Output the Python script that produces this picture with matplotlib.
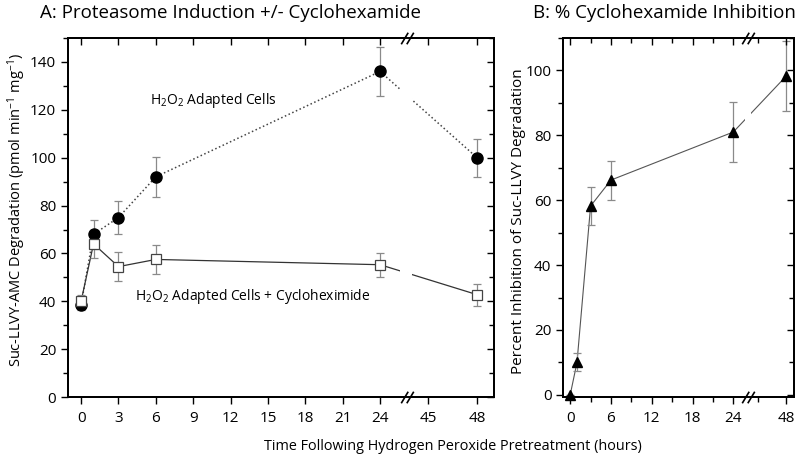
import numpy as np
import matplotlib
matplotlib.use("Agg")
import matplotlib.pyplot as plt

plt.rcParams['font.family'] = ['Open Sans', 'DejaVu Sans']
plt.rcParams['mathtext.fontset'] = 'custom'
plt.rcParams['mathtext.rm'] = 'Open Sans'
plt.rcParams['mathtext.it'] = 'Open Sans:italic'

# ---- data ----
# Panel A
time_a = [0, 1, 3, 6, 24, 48]
adapted = [38.5, 68, 75, 92, 136, 100]
adapted_err = [2, 6, 7, 8.4, 10.2, 8]
chx = [40, 64, 54.5, 57.5, 55.3, 42.8]
chx_err = [2.5, 6, 6, 6, 5, 4.6]
xticks_a = [0, 3, 6, 9, 12, 15, 18, 21, 24, 45, 48]

# Panel B
time_b = [0, 1, 3, 6, 24, 48]
inhib = [0, 10, 58.2, 66.2, 81, 98.3]
inhib_err = [0, 2.8, 6, 6, 9.3, 10.8]
xticks_b = [0, 6, 12, 18, 24, 48]
xminor_b = [3, 9, 15, 21, 45]


# broken time axis: linear up to 24 h, compressed gap to 45 h
def make_scale(p45, slope):
    xs = [-100, 24, 45, 200]
    ps = [-100, 24, p45, p45 + 155 * slope]
    fwd = lambda x: np.interp(x, xs, ps)
    inv = lambda p: np.interp(p, ps, xs)
    return fwd, inv

fa, ia = make_scale(27.85, 1.31)
fb, ib = make_scale(27.69, 1.373)

fig = plt.figure(figsize=(8, 4.57), dpi=100)

ax = fig.add_axes([0.085, 0.131, 0.5325, 0.786])
bx = fig.add_axes([0.704, 0.131, 0.289, 0.786])

grey = '#8a8a8a'


def setup(ax, fwd, inv, xlim, ylim, xt, xminor, yt, yminor):
    ax.set_xscale('function', functions=(fwd, inv))
    ax.set_xlim(*xlim)
    ax.set_ylim(*ylim)
    ax.set_xticks(xt)
    ax.set_xticklabels([str(t) for t in xt])
    ax.set_xticks(xminor, minor=True)
    ax.set_yticks(yt)
    ax.set_yticks(yminor, minor=True)
    ax.tick_params(direction='out', labelsize=11, length=5, width=1)
    ax.tick_params(axis='x', pad=5)
    ax.tick_params(which='minor', direction='out', length=3.5, width=1)
    for s in ax.spines.values():
        s.set_linewidth(1.2)
    # inward ticks on top and right
    axt = ax.twiny()
    axt.set_xscale('function', functions=(fwd, inv))
    axt.set_xlim(*xlim)
    axt.set_xticks(xt)
    axt.set_xticks(xminor, minor=True)
    axt.tick_params(which='both', direction='in', labeltop=False, top=True, bottom=False)
    axt.tick_params(length=5, width=1)
    axt.tick_params(which='minor', length=3.5, width=1)
    axr = ax.twinx()
    axr.set_ylim(*ylim)
    axr.set_yticks(yt)
    axr.set_yticks(yminor, minor=True)
    axr.tick_params(which='both', direction='in', labelright=False, right=True, left=False)
    axr.tick_params(length=5, width=1)
    axr.tick_params(which='minor', length=3.5, width=1)
    for a in (axt, axr):
        for s in a.spines.values():
            s.set_linewidth(1.2)


def break_marks(ax, xb):
    # "//" drawn on top and bottom spines at the axis break
    tr = ax.get_xaxis_transform()
    for yy in (0, 1):
        ax.plot([xb], [yy], transform=tr, marker='s', markersize=5, color='white',
                mec='none', clip_on=False, zorder=5)
        for off in (-1.2, 1.2):
            ax.plot([xb], [yy], transform=tr,
                    marker=[(-1.5 + off, -2.5), (1.5 + off, 2.5)],
                    markersize=9, color='black', mew=1.2, clip_on=False, zorder=6)


# ---- Panel A ----
setup(ax, fa, ia, (-1.05, 49.04), (0, 150), xticks_a, [],
      list(range(0, 141, 20)), list(range(10, 151, 20)))

ax.plot(time_a, adapted, linestyle=':', color='#444444', lw=1.1, zorder=2)
ax.plot(time_a, chx, linestyle='-', color='#333333', lw=0.9, zorder=2)
ax.axvspan(32.7, 38.0, color='white', zorder=2.3, lw=0)
ax.errorbar(time_a, adapted, yerr=adapted_err, fmt='none', ecolor=grey,
            elinewidth=0.9, capsize=3, capthick=0.9, zorder=3)
ax.errorbar(time_a, chx, yerr=chx_err, fmt='none', ecolor=grey,
            elinewidth=0.9, capsize=3, capthick=0.9, zorder=3)
ax.plot(time_a, adapted, 'o', color='black', markersize=8, zorder=4)
ax.plot(time_a, chx, 's', mfc='white', mec='#444444', mew=0.9, markersize=7, zorder=4)
break_marks(ax, 35.8)

ax.text(0.34, 0.825, r'H$_2$O$_2$ Adapted Cells', transform=ax.transAxes, fontsize=10,
        ha='center', va='center')
ax.text(0.158, 0.279, r'H$_2$O$_2$ Adapted Cells + Cycloheximide', transform=ax.transAxes,
        fontsize=10, ha='left', va='center')

ax.set_ylabel(r'Suc-LLVY-AMC Degradation (pmol min$^{-1}$ mg$^{-1}$)', fontsize=10.5)
ax.yaxis.set_label_coords(-0.094, 0.52)
fig.text(231 / 800, 0.971, 'A: Proteasome Induction +/- Cyclohexamide', fontsize=13.5,
         ha='center', va='center')

# ---- Panel B ----
setup(bx, fb, ib, (-1.03, 48.86), (-0.7, 110), xticks_b, xminor_b,
      list(range(0, 101, 20)), list(range(10, 111, 20)))
bx.plot(time_b, inhib, '-', color='#555555', lw=0.8, zorder=2)
bx.axvspan(34.1, 39.1, color='white', zorder=2.3, lw=0)
bx.errorbar(time_b, inhib, yerr=inhib_err, fmt='none', ecolor=grey,
            elinewidth=0.9, capsize=3, capthick=0.9, zorder=3)
bx.plot(time_b, inhib, '^', color='black', markersize=7, zorder=4, clip_on=False)
break_marks(bx, 36.5)
bx.set_ylabel('Percent Inhibition of Suc-LLVY Degradation', fontsize=11)
bx.yaxis.set_label_coords(-0.163, 0.49)
fig.text(664 / 800, 0.971, 'B: % Cyclohexamide Inhibition', fontsize=13.5,
         ha='center', va='center')

fig.text(453 / 800, 1 - 447 / 457, 'Time Following Hydrogen Peroxide Pretreatment (hours)',
         ha='center', va='center', fontsize=10.4)

fig.savefig('out.png', dpi=100)
